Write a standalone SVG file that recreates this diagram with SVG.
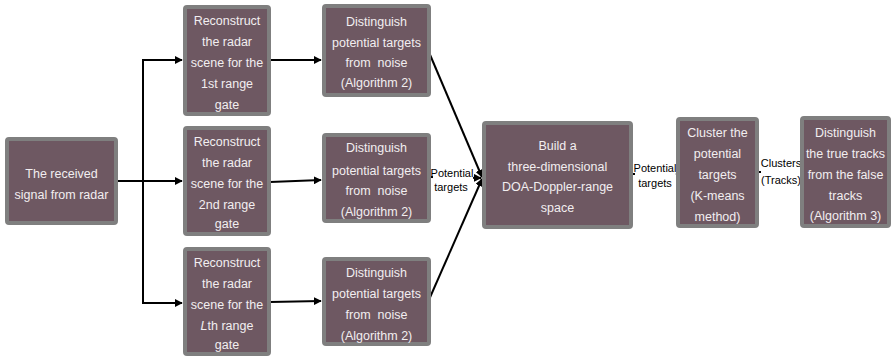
<svg xmlns="http://www.w3.org/2000/svg" width="892" height="356" viewBox="0 0 892 356">
<style>
.box{fill:#6e5862;stroke:#7f7f7f;stroke-width:4}
.t{font-family:"Liberation Sans",Arial,sans-serif;font-size:12.5px;fill:#f2eef0;text-anchor:middle;white-space:pre}
.l{font-family:"Liberation Sans",Arial,sans-serif;font-size:11px;fill:#000;text-anchor:middle}
.c{fill:none;stroke:#000;stroke-width:2}
</style>
<defs>
<marker id="a" viewBox="0 0 10 10" refX="9" refY="5" markerWidth="4" markerHeight="4" orient="auto" markerUnits="strokeWidth">
<path d="M0,0 L10,5 L0,10 z" fill="#000"/>
</marker>
</defs>
<rect width="892" height="356" fill="#fff"/>
<g id="connectors">
<path class="c" d="M117,181 H182" marker-end="url(#a)"/>
<path class="c" d="M143,181 V60 H182" marker-end="url(#a)"/>
<path class="c" d="M143,181 V303 H182" marker-end="url(#a)"/>
<path class="c" d="M270,60 H321" marker-end="url(#a)"/>
<path class="c" d="M270,182 L321,180" marker-end="url(#a)"/>
<path class="c" d="M270,302 L321,301" marker-end="url(#a)"/>
<path class="c" d="M428,50 L482,177" marker-end="url(#a)"/>
<path class="c" d="M428,302 L482,179" marker-end="url(#a)"/>
<path class="c" d="M430,177 L481,178" marker-end="url(#a)"/>
<path class="c" d="M632,174 L675,174" marker-end="url(#a)"/>
<path class="c" d="M758,172 L799,172" marker-end="url(#a)"/>
<rect x="433" y="164" width="40" height="29" fill="#fff"/>
<rect x="635" y="160" width="40" height="28" fill="#fff"/>
<rect x="761" y="155" width="40" height="30" fill="#fff"/>
<text class="l" x="452" y="177">Potential</text>
<text class="l" x="451" y="191">targets</text>
<text class="l" x="655" y="172">Potential</text>
<text class="l" x="655" y="187">targets</text>
<text class="l" x="781" y="167">Clusters</text>
<text class="l" x="781" y="184">(Tracks)</text>
</g>
<g id="n_received">
<rect class="box" x="7" y="139" width="109" height="84" rx="2"/>
<text class="t" x="61.5" y="178">The received</text>
<text class="t" x="61.5" y="199">signal from radar</text>
</g>
<g id="n_rec1">
<rect class="box" x="185" y="7" width="84" height="107" rx="2"/>
<text class="t" x="227" y="25">Reconstruct</text>
<text class="t" x="227" y="46">the radar</text>
<text class="t" x="227" y="67">scene for the</text>
<text class="t" x="227" y="88">1st range</text>
<text class="t" x="227" y="109">gate</text>
</g>
<g id="n_rec2">
<rect class="box" x="185" y="128" width="84" height="106" rx="2"/>
<text class="t" x="227" y="146">Reconstruct</text>
<text class="t" x="227" y="167">the radar</text>
<text class="t" x="227" y="188">scene for the</text>
<text class="t" x="227" y="209">2nd range</text>
<text class="t" x="227" y="228">gate</text>
</g>
<g id="n_rec3">
<rect class="box" x="185" y="249" width="84" height="105" rx="2"/>
<text class="t" x="227" y="267">Reconstruct</text>
<text class="t" x="227" y="288">the radar</text>
<text class="t" x="227" y="309">scene for the</text>
<text class="t" x="227" y="330"><tspan font-style="italic">L</tspan>th range</text>
<text class="t" x="227" y="349">gate</text>
</g>
<g id="n_dis1">
<rect class="box" x="324" y="6" width="105" height="89" rx="2"/>
<text class="t" x="376.5" y="26">Distinguish</text>
<text class="t" x="376.5" y="47">potential targets</text>
<text class="t" x="376.5" y="67">from  noise</text>
<text class="t" x="376.5" y="87">(Algorithm 2)</text>
</g>
<g id="n_dis2">
<rect class="box" x="324" y="135" width="105" height="86" rx="2"/>
<text class="t" x="376.5" y="152">Distinguish</text>
<text class="t" x="376.5" y="175">potential targets</text>
<text class="t" x="376.5" y="195">from  noise</text>
<text class="t" x="376.5" y="216">(Algorithm 2)</text>
</g>
<g id="n_dis3">
<rect class="box" x="324" y="259" width="105" height="85" rx="2"/>
<text class="t" x="376.5" y="277">Distinguish</text>
<text class="t" x="376.5" y="298">potential targets</text>
<text class="t" x="376.5" y="319">from  noise</text>
<text class="t" x="376.5" y="340">(Algorithm 2)</text>
</g>
<g id="n_build">
<rect class="box" x="484" y="123" width="147" height="104" rx="2"/>
<text class="t" x="557.5" y="150">Build a</text>
<text class="t" x="557.5" y="171">three-dimensional</text>
<text class="t" x="557.5" y="191">DOA-Doppler-range</text>
<text class="t" x="557.5" y="212">space</text>
</g>
<g id="n_cluster">
<rect class="box" x="678" y="119" width="79" height="107" rx="2"/>
<text class="t" x="717.5" y="137">Cluster the</text>
<text class="t" x="717.5" y="158">potential</text>
<text class="t" x="717.5" y="179">targets</text>
<text class="t" x="717.5" y="200">(K-means</text>
<text class="t" x="717.5" y="221">method)</text>
</g>
<g id="n_tracks">
<rect class="box" x="802" y="118" width="87" height="108" rx="2"/>
<text class="t" x="845.5" y="137">Distinguish</text>
<text class="t" x="845.5" y="158">the true tracks</text>
<text class="t" x="845.5" y="179">from the false</text>
<text class="t" x="845.5" y="200">tracks</text>
<text class="t" x="845.5" y="220">(Algorithm 3)</text>
</g>
</svg>
